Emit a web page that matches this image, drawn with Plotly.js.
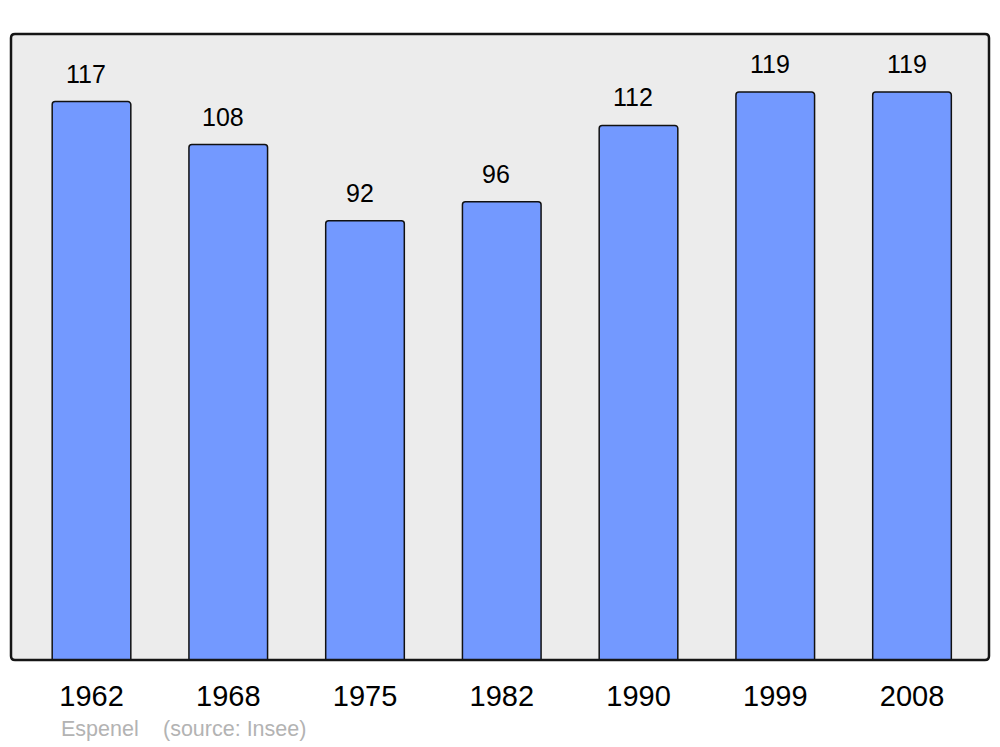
<!DOCTYPE html>
<html>
<head>
<meta charset="utf-8">
<script src="https://cdn.plot.ly/plotly-3.0.1.min.js"></script>
<style>html,body{margin:0;padding:0;background:#fff;}#chart{width:1000px;height:747px;}</style>
</head>
<body>
<div id="chart"></div>
<script>
const years = ["1962", "1968", "1975", "1982", "1990", "1999", "2008"];
const population = [117, 108, 92, 96, 112, 119, 119];
const footerAuthor = "Espenel";
const footerSource = "(source: Insee)";

const idx = years.map((_, i) => i);

const trace = {
  type: 'bar',
  x: idx,
  y: population,
  width: 0.575,
  marker: {color: '#7399ff', line: {color: '#111', width: 1.5}, cornerradius: 3},
  hoverinfo: 'skip'
};

const labelAnns = population.map((v, i) => ({
  x: i, y: v, xref: 'x', yref: 'y', text: String(v), showarrow: false,
  xanchor: 'center', yanchor: 'middle', xshift: -5.5, yshift: 28,
  font: {family: 'Liberation Sans, Arial, sans-serif', size: 25, color: '#000'}
}));

const rx = 4 / 978, ry = 4 / 626;
const framePath = `M ${rx} 1 L ${1 - rx} 1 Q 1 1 1 ${1 - ry} L 1 ${ry} Q 1 0 ${1 - rx} 0 L ${rx} 0 Q 0 0 0 ${ry} L 0 ${1 - ry} Q 0 1 ${rx} 1 Z`;

const layout = {
  width: 1000, height: 747,
  margin: {l: 11, r: 11, t: 34, b: 87},
  paper_bgcolor: '#ffffff',
  plot_bgcolor: '#ececec',
  showlegend: false,
  font: {family: 'Liberation Sans, Arial, sans-serif'},
  xaxis: {
    range: [-0.5887, 6.563],
    tickmode: 'array', tickvals: idx, ticktext: years,
    ticks: 'outside', ticklen: 10, tickcolor: 'rgba(0,0,0,0)',
    tickfont: {size: 29, color: '#000'},
    showgrid: false, zeroline: false, showline: false, fixedrange: true
  },
  yaxis: {
    range: [0, 131.15], visible: false, showgrid: false, zeroline: false, fixedrange: true
  },
  shapes: [{
    type: 'path', xref: 'paper', yref: 'paper', path: framePath,
    line: {color: '#151515', width: 2.5}, fillcolor: 'rgba(0,0,0,0)', layer: 'above'
  }],
  annotations: labelAnns.concat([
    {x: 59, y: 729, xref: 'paper', yref: 'paper', text: footerAuthor, showarrow: false,
     xanchor: 'left', yanchor: 'middle', font: {size: 21.5, color: '#b3b3b3'}},
    {x: 161, y: 729, xref: 'paper', yref: 'paper', text: footerSource, showarrow: false,
     xanchor: 'left', yanchor: 'middle', font: {size: 21.5, color: '#b3b3b3'}}
  ])
};

// convert footer pixel positions to paper coords
layout.annotations.forEach(a => {
  if (a.xref === 'paper' && a.x > 1) {
    a.x = (a.x - 11) / 978;
    a.y = (660 - a.y) / 626;
  }
});

Plotly.newPlot('chart', [trace], layout, {displayModeBar: false, staticPlot: true});
</script>
</body>
</html>
